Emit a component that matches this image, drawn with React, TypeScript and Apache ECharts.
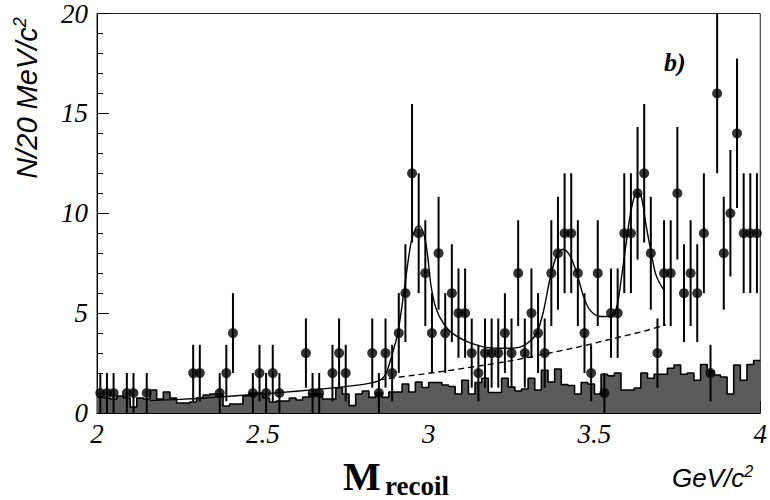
import React, { useEffect, useRef } from "react";
import * as echarts from "echarts";

// Axis range and binning (20 MeV bins)
const X_MIN = 2;
const X_MAX = 4;
const BIN = 0.02;

// Data: events per 20 MeV bin (0 = empty bin, not drawn)
const counts = [
  1, 1, 1, 0, 1, 1, 0, 1, 0, 0,
  0, 0, 0, 0, 2, 2, 0, 0, 1, 2,
  4, 0, 0, 1, 2, 1, 2, 1, 0, 0,
  0, 3, 1, 1, 0, 2, 3, 2, 0, 0,
  0, 3, 1, 3, 2, 4, 6, 12, 9, 7,
  4, 8, 4, 6, 5, 5, 3, 2, 3, 3,
  3, 4, 3, 7, 3, 5, 4, 3, 7, 8,
  9, 9, 7, 4, 2, 7, 1, 5, 5, 9,
  9, 11, 12, 8, 3, 7, 7, 11, 6, 7,
  6, 9, 2, 16, 8, 10, 14, 9, 9, 9,
];

// Background (hatched) histogram per bin
const bkgHist = [
  0.8, 0.75, 0.7, 0.85, 0.75, 0.3, 0.75, 0.7, 1.15, 0.7,
  1.05, 0.75, 0.5, 0.5, 0.55, 0.75, 0.9, 0.95, 0.95, 0.35,
  0.45, 0.45, 0.85, 1.0, 1.0, 0.75, 0.55, 0.6, 0.6, 0.75,
  0.65, 0.8, 0.95, 0.95, 0.7, 0.7, 1.25, 0.95, 0.37, 0.95,
  1.1, 0.78, 1.0, 0.78, 1.05, 1.05, 1.45, 1.05, 1.55, 1.28,
  1.53, 1.53, 1.4, 1.33, 0.95, 1.64, 0.95, 1.53, 1.74, 1.03,
  1.03, 1.74, 1.3, 1.1, 1.2, 1.74, 1.15, 2.14, 1.55, 2.2,
  1.42, 1.38, 0.95, 1.53, 1.45, 0.95, 1.94, 1.86, 2.0, 1.15,
  1.15, 1.25, 2.0, 1.74, 1.94, 1.94, 2.24, 2.4, 1.94, 2.0,
  1.64, 2.43, 2.1, 1.9, 1.8, 0.95, 2.4, 1.64, 2.43, 2.63,
];

// Fit: total (solid)
const fitX = [
  2.16, 2.25, 2.35, 2.45, 2.55, 2.65, 2.75, 2.82, 2.855, 2.872,
  2.887, 2.907, 2.927, 2.947, 2.962, 2.972, 2.987, 2.997, 3.007, 3.022,
  3.047, 3.077, 3.127, 3.187, 3.24, 3.28, 3.306, 3.326, 3.346, 3.366,
  3.386, 3.406, 3.426, 3.446, 3.466, 3.486, 3.516, 3.546, 3.566, 3.581,
  3.596, 3.611, 3.628, 3.641, 3.656, 3.671, 3.686, 3.711,
];
const fitY = [
  0.62, 0.68, 0.78, 0.9, 1.02, 1.16, 1.32, 1.48, 1.66, 2.0,
  2.76, 4.0, 6.23, 8.54, 9.28, 9.37, 8.87, 7.88, 6.4, 5.24,
  4.42, 3.92, 3.5, 3.26, 3.24, 3.32, 3.6, 4.0, 5.07, 6.72,
  7.88, 8.2, 7.88, 7.05, 5.9, 5.16, 4.83, 4.83, 5.24, 6.72,
  8.54, 10.19, 11.05, 10.85, 9.37, 8.04, 6.89, 6.1,
];

// Fit: background (dashed)
const bkgFitX = [2.85, 2.95, 3.05, 3.15, 3.25, 3.35, 3.45, 3.55, 3.65, 3.715];
const bkgFitY = [1.66, 1.88, 2.1, 2.35, 2.62, 2.95, 3.3, 3.7, 4.1, 4.42];

const xTickLabels = ["2", "2.5", "3", "3.5", "4"];
const yTickLabels = ["0", "5", "10", "15", "20"];

const serif = '"Liberation Serif", "Times New Roman", serif';
const sans = '"Liberation Sans", Arial, sans-serif';

export default function App() {
  const ref = useRef<HTMLDivElement>(null);

  useEffect(() => {
    document.body.style.margin = "0";
    if (!ref.current) return;
    const chart = echarts.init(ref.current, undefined, { renderer: "svg" });

    const histData: number[][] = bkgHist.map((h, i) => [X_MIN + i * BIN, h]);
    histData.push([X_MAX, bkgHist[bkgHist.length - 1]]);

    const pts: number[][] = [];
    counts.forEach((n, i) => {
      if (n > 0) pts.push([X_MIN + (i + 0.5) * BIN, n, Math.sqrt(n)]);
    });

    const fitData = fitX.map((x, i) => [x, fitY[i]]);
    const bkgData = bkgFitX.map((x, i) => [x, bkgFitY[i]]);

    const xLabelMap: Record<string, string> = {};
    [2, 2.5, 3, 3.5, 4].forEach((v, i) => (xLabelMap[String(v)] = xTickLabels[i]));
    const yLabelMap: Record<string, string> = {};
    [0, 5, 10, 15, 20].forEach((v, i) => (yLabelMap[String(v)] = yTickLabels[i]));

    chart.setOption({
      animation: false,
      grid: {
        left: 97,
        top: 9,
        width: 668,
        height: 404,
        show: true,
        borderColor: "#222",
        borderWidth: 1,
        backgroundColor: "transparent",
      },
      xAxis: {
        type: "value",
        min: 2,
        max: 4,
        interval: 0.5,
        axisLine: { show: true, lineStyle: { color: "#000", width: 1 } },
        axisTick: { show: true, inside: true, length: 12, lineStyle: { color: "#000" } },
        minorTick: { show: true, splitNumber: 5, length: 6, lineStyle: { color: "#000" } },
        splitLine: { show: false },
        axisLabel: {
          margin: 7,
          color: "#000",
          fontFamily: serif,
          fontStyle: "italic",
          fontSize: 27,
          formatter: (v: number) => xLabelMap[String(v)] ?? "",
        },
      },
      yAxis: {
        type: "value",
        min: 0,
        max: 20,
        interval: 5,
        axisLine: { show: true, lineStyle: { color: "#000", width: 1 } },
        axisTick: { show: true, inside: true, length: 12, lineStyle: { color: "#000" } },
        minorTick: { show: true, splitNumber: 5, length: 6, lineStyle: { color: "#000" } },
        splitLine: { show: false },
        axisLabel: {
          margin: 9,
          color: "#000",
          fontFamily: serif,
          fontStyle: "italic",
          fontSize: 27,
          formatter: (v: number) => yLabelMap[String(v)] ?? "",
        },
      },
      graphic: [
        {
          type: "text",
          x: 27,
          y: 98,
          rotation: Math.PI / 2,
          style: {
            text: "{a|N/20 MeV/c}{b|2}",
            fill: "#000",
            align: "center",
            verticalAlign: "middle",
            rich: {
              a: { fontFamily: sans, fontStyle: "italic", fontSize: 29, lineHeight: 32, fill: "#000" },
              b: { fontFamily: sans, fontStyle: "italic", fontSize: 18, lineHeight: 32, verticalAlign: "top", fill: "#000" },
            },
          },
        },
        {
          type: "text",
          x: 664,
          y: 62,
          style: {
            text: "b)",
            fill: "#000",
            fontFamily: serif,
            fontStyle: "italic",
            fontWeight: "bold",
            fontSize: 26,
            align: "left",
            verticalAlign: "middle",
          },
        },
        {
          type: "text",
          x: 343,
          y: 476,
          style: {
            text: "M",
            fill: "#000",
            fontFamily: serif,
            fontWeight: "bold",
            fontSize: 40,
            align: "left",
            verticalAlign: "middle",
          },
        },
        {
          type: "text",
          x: 385,
          y: 486,
          style: {
            text: "recoil",
            fill: "#000",
            fontFamily: serif,
            fontWeight: "bold",
            fontSize: 27,
            align: "left",
            verticalAlign: "middle",
          },
        },
        {
          type: "text",
          x: 672,
          y: 478,
          style: {
            text: "{a|GeV/c}{b|2}",
            fill: "#000",
            align: "left",
            verticalAlign: "middle",
            rich: {
              a: { fontFamily: sans, fontStyle: "italic", fontSize: 26, lineHeight: 30, fill: "#000" },
              b: { fontFamily: sans, fontStyle: "italic", fontSize: 16, lineHeight: 30, verticalAlign: "top", fill: "#000" },
            },
          },
        },
      ],
      series: [
        {
          name: "background MC",
          type: "line",
          step: "end",
          data: histData,
          symbol: "none",
          z: 1,
          lineStyle: { color: "#000", width: 1.6 },
          areaStyle: { color: "#5a5a5a", opacity: 1 },
        },
        {
          name: "fit",
          type: "line",
          data: fitData,
          smooth: 0.3,
          symbol: "none",
          z: 3,
          lineStyle: { color: "#000", width: 1.4 },
        },
        {
          name: "fit background",
          type: "line",
          data: bkgData,
          smooth: 0.3,
          symbol: "none",
          z: 3,
          lineStyle: { color: "#000", width: 1.4, type: [6, 4] },
        },
        {
          name: "errors",
          type: "custom",
          clip: true,
          z: 4,
          data: pts,
          renderItem: (params: any, api: any) => {
            const x = api.value(0);
            const n = api.value(1);
            const e = api.value(2);
            const top = api.coord([x, n + e]);
            const bot = api.coord([x, n - e]);
            return {
              type: "line",
              shape: { x1: top[0], y1: top[1], x2: bot[0], y2: bot[1] },
              style: { stroke: "#000", lineWidth: 2 },
            };
          },
        },
        {
          name: "data",
          type: "scatter",
          data: pts.map((p) => [p[0], p[1]]),
          symbol: "circle",
          symbolSize: 10,
          z: 5,
          itemStyle: { color: "#000" },
        },
      ],
    });

    return () => chart.dispose();
  }, []);

  return <div ref={ref} style={{ width: 770, height: 500 }} />;
}
